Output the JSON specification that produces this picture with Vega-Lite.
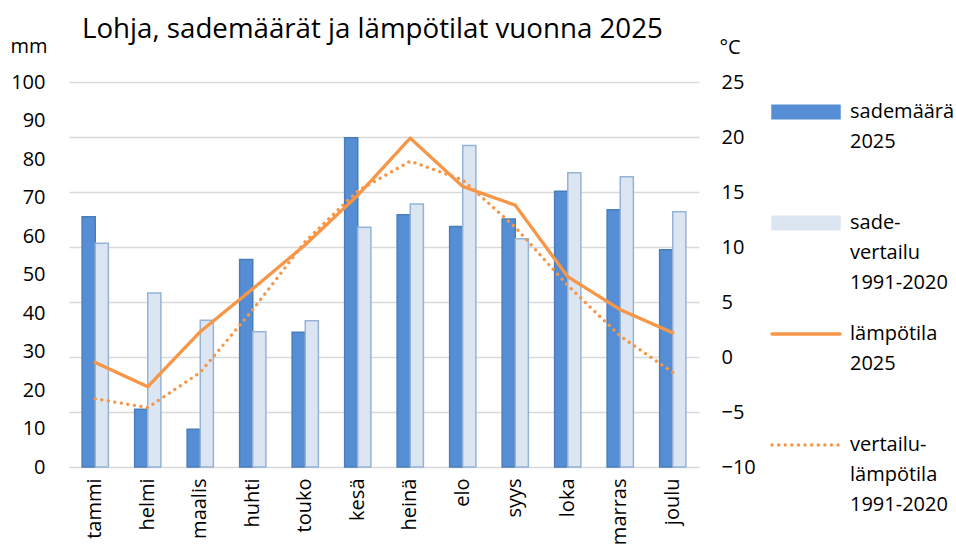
{
  "$schema": "https://vega.github.io/schema/vega-lite/v6.json",
  "width": 630,
  "height": 385,
  "autosize": "none",
  "padding": {"left": 69, "top": 82, "right": 257, "bottom": 77},
  "background": "white",
  "config": {
    "font": "Open Sans",
    "view": {"stroke": null},
    "axis": {"labelFont": "Open Sans", "labelFontSize": 20, "labelColor": "#000000", "titleFont": "Open Sans", "titleFontSize": 20, "titleFontWeight": "normal", "titleColor": "#000000"}
  },
  "title": {"text": "Lohja, sademäärät ja lämpötilat vuonna 2025", "anchor": "start", "frame": "group", "fontSize": 27.7, "fontWeight": "normal", "color": "#000000", "font": "Open Sans", "dx": 13, "dy": 8, "offset": 0},
  "datasets": {
    "sade": [
      {"kuukausi": "tammi", "sarja": "sademäärä 2025", "mm": 65.0},
      {"kuukausi": "helmi", "sarja": "sademäärä 2025", "mm": 15.0},
      {"kuukausi": "maalis", "sarja": "sademäärä 2025", "mm": 9.8},
      {"kuukausi": "huhti", "sarja": "sademäärä 2025", "mm": 53.9},
      {"kuukausi": "touko", "sarja": "sademäärä 2025", "mm": 35.0},
      {"kuukausi": "kesä", "sarja": "sademäärä 2025", "mm": 85.5},
      {"kuukausi": "heinä", "sarja": "sademäärä 2025", "mm": 65.5},
      {"kuukausi": "elo", "sarja": "sademäärä 2025", "mm": 62.5},
      {"kuukausi": "syys", "sarja": "sademäärä 2025", "mm": 64.4},
      {"kuukausi": "loka", "sarja": "sademäärä 2025", "mm": 71.6},
      {"kuukausi": "marras", "sarja": "sademäärä 2025", "mm": 66.8},
      {"kuukausi": "joulu", "sarja": "sademäärä 2025", "mm": 56.4},
      {"kuukausi": "tammi", "sarja": "sade-vertailu 1991-2020", "mm": 58.1},
      {"kuukausi": "helmi", "sarja": "sade-vertailu 1991-2020", "mm": 45.2},
      {"kuukausi": "maalis", "sarja": "sade-vertailu 1991-2020", "mm": 38.1},
      {"kuukausi": "huhti", "sarja": "sade-vertailu 1991-2020", "mm": 35.1},
      {"kuukausi": "touko", "sarja": "sade-vertailu 1991-2020", "mm": 38.0},
      {"kuukausi": "kesä", "sarja": "sade-vertailu 1991-2020", "mm": 62.3},
      {"kuukausi": "heinä", "sarja": "sade-vertailu 1991-2020", "mm": 68.3},
      {"kuukausi": "elo", "sarja": "sade-vertailu 1991-2020", "mm": 83.5},
      {"kuukausi": "syys", "sarja": "sade-vertailu 1991-2020", "mm": 59.3},
      {"kuukausi": "loka", "sarja": "sade-vertailu 1991-2020", "mm": 76.4},
      {"kuukausi": "marras", "sarja": "sade-vertailu 1991-2020", "mm": 75.4},
      {"kuukausi": "joulu", "sarja": "sade-vertailu 1991-2020", "mm": 66.3}
    ],
    "lampo": [
      {"kuukausi": "tammi", "sarja": "lämpötila 2025", "c": -0.5},
      {"kuukausi": "helmi", "sarja": "lämpötila 2025", "c": -2.7},
      {"kuukausi": "maalis", "sarja": "lämpötila 2025", "c": 2.3},
      {"kuukausi": "huhti", "sarja": "lämpötila 2025", "c": 6.2},
      {"kuukausi": "touko", "sarja": "lämpötila 2025", "c": 10.2},
      {"kuukausi": "kesä", "sarja": "lämpötila 2025", "c": 14.7},
      {"kuukausi": "heinä", "sarja": "lämpötila 2025", "c": 19.9},
      {"kuukausi": "elo", "sarja": "lämpötila 2025", "c": 15.5},
      {"kuukausi": "syys", "sarja": "lämpötila 2025", "c": 13.8},
      {"kuukausi": "loka", "sarja": "lämpötila 2025", "c": 7.3},
      {"kuukausi": "marras", "sarja": "lämpötila 2025", "c": 4.3},
      {"kuukausi": "joulu", "sarja": "lämpötila 2025", "c": 2.2},
      {"kuukausi": "tammi", "sarja": "vertailu-lämpötila 1991-2020", "c": -3.8},
      {"kuukausi": "helmi", "sarja": "vertailu-lämpötila 1991-2020", "c": -4.6},
      {"kuukausi": "maalis", "sarja": "vertailu-lämpötila 1991-2020", "c": -1.4},
      {"kuukausi": "huhti", "sarja": "vertailu-lämpötila 1991-2020", "c": 4.3},
      {"kuukausi": "touko", "sarja": "vertailu-lämpötila 1991-2020", "c": 10.5},
      {"kuukausi": "kesä", "sarja": "vertailu-lämpötila 1991-2020", "c": 15.1},
      {"kuukausi": "heinä", "sarja": "vertailu-lämpötila 1991-2020", "c": 17.8},
      {"kuukausi": "elo", "sarja": "vertailu-lämpötila 1991-2020", "c": 16.1},
      {"kuukausi": "syys", "sarja": "vertailu-lämpötila 1991-2020", "c": 11.8},
      {"kuukausi": "loka", "sarja": "vertailu-lämpötila 1991-2020", "c": 6.5},
      {"kuukausi": "marras", "sarja": "vertailu-lämpötila 1991-2020", "c": 1.9},
      {"kuukausi": "joulu", "sarja": "vertailu-lämpötila 1991-2020", "c": -1.4}
    ]
  },
  "layer": [
    {
      "data": {"name": "sade"},
      "mark": {"type": "bar", "strokeWidth": 1.5},
      "encoding": {
        "x": {
          "field": "kuukausi", "type": "nominal",
          "sort": ["tammi", "helmi", "maalis", "huhti", "touko", "kesä", "heinä", "elo", "syys", "loka", "marras", "joulu"],
          "scale": {"paddingInner": 0.5, "paddingOuter": 0.25},
          "axis": {"title": null, "labelAngle": -90, "labelAlign": "right", "labelBaseline": "middle", "ticks": false, "domain": false, "labelPadding": 11, "grid": false}
        },
        "xOffset": {"field": "sarja", "type": "nominal", "sort": ["sademäärä 2025", "sade-vertailu 1991-2020"], "scale": {"paddingInner": 0, "paddingOuter": 0}},
        "y": {
          "field": "mm", "type": "quantitative",
          "scale": {"domain": [0, 100], "nice": false, "zero": true},
          "axis": {"orient": "left", "values": [0, 10, 20, 30, 40, 50, 60, 70, 80, 90, 100], "grid": false, "ticks": false, "domain": false, "labelPadding": 24, "title": "mm", "titleAngle": 0, "titleAlign": "left", "titleBaseline": "alphabetic", "titleX": -59, "titleY": -30}
        },
        "color": {
          "field": "sarja", "type": "nominal",
          "scale": {"domain": ["sademäärä 2025", "sade-vertailu 1991-2020", "lämpötila 2025", "vertailu-lämpötila 1991-2020"], "range": ["#558ED5", "#DCE6F2", "#F79646", "#F79646"]},
          "legend": {
            "orient": "none", "legendX": 704, "legendY": 20, "title": null,
            "labelFont": "Open Sans", "labelFontSize": 20, "labelColor": "#000000", "labelLimit": 300,
            "symbolSize": 4624, "labelOffset": 34, "symbolOffset": 23, "rowPadding": 31,
            "symbolType": "M-1,-0.2L1,-0.2L1,0.2L-1,0.2Z",
            "labelExpr": "datum.label == 'sademäärä 2025' ? ['sademäärä', '2025', ''] : datum.label == 'sade-vertailu 1991-2020' ? ['sade-', 'vertailu', '1991-2020'] : datum.label == 'lämpötila 2025' ? ['lämpötila', '2025', ''] : ['vertailu-', 'lämpötila', '1991-2020']",
            "encode": {
              "symbols": {"update": {
                "shape": {"signal": "(datum.value == 'lämpötila 2025' || datum.value == 'vertailu-lämpötila 1991-2020') ? 'stroke' : 'M-1,-0.2L1,-0.2L1,0.2L-1,0.2Z'"},
                "fill": {"signal": "datum.value == 'sademäärä 2025' ? '#558ED5' : datum.value == 'sade-vertailu 1991-2020' ? '#DCE6F2' : 'transparent'"},
                "stroke": {"signal": "datum.value == 'sademäärä 2025' ? '#4A7EBB' : datum.value == 'sade-vertailu 1991-2020' ? '#95B3D7' : '#F79646'"},
                "strokeWidth": {"signal": "(datum.value == 'lämpötila 2025' || datum.value == 'vertailu-lämpötila 1991-2020') ? 3.3 : 1.5"},
                "strokeDash": {"signal": "datum.value == 'vertailu-lämpötila 1991-2020' ? [0.1, 6.5] : [1, 0]"},
                "strokeCap": {"value": "round"},
                "opacity": {"value": 1}
              }},
              "labels": {"update": {"lineHeight": {"value": 30}}}
            }
          }
        },
        "stroke": {
          "field": "sarja", "type": "nominal",
          "scale": {"domain": ["sademäärä 2025", "sade-vertailu 1991-2020"], "range": ["#4A7EBB", "#95B3D7"]},
          "legend": null
        }
      }
    },
    {
      "data": {"name": "lampo"},
      "mark": {"type": "line", "strokeWidth": 3.3, "strokeCap": "round", "strokeJoin": "round"},
      "encoding": {
        "x": {"field": "kuukausi", "type": "nominal", "sort": ["tammi", "helmi", "maalis", "huhti", "touko", "kesä", "heinä", "elo", "syys", "loka", "marras", "joulu"]},
        "y": {
          "field": "c", "type": "quantitative",
          "scale": {"domain": [-10, 25], "nice": false, "zero": false},
          "axis": {"orient": "right", "values": [-10, -5, 0, 5, 10, 15, 20, 25], "grid": true, "gridColor": "#D9D9D9", "gridWidth": 1.5, "ticks": false, "domain": false, "labelPadding": 22, "title": "°C", "titleAngle": 0, "titleAlign": "left", "titleBaseline": "alphabetic", "titleX": 20, "titleY": -29}
        },
        "color": {"field": "sarja", "type": "nominal"},
        "strokeDash": {
          "field": "sarja", "type": "nominal",
          "scale": {"domain": ["lämpötila 2025", "vertailu-lämpötila 1991-2020"], "range": [[1, 0], [0.1, 6.5]]},
          "legend": null
        }
      }
    }
  ],
  "resolve": {"scale": {"y": "independent"}}
}
